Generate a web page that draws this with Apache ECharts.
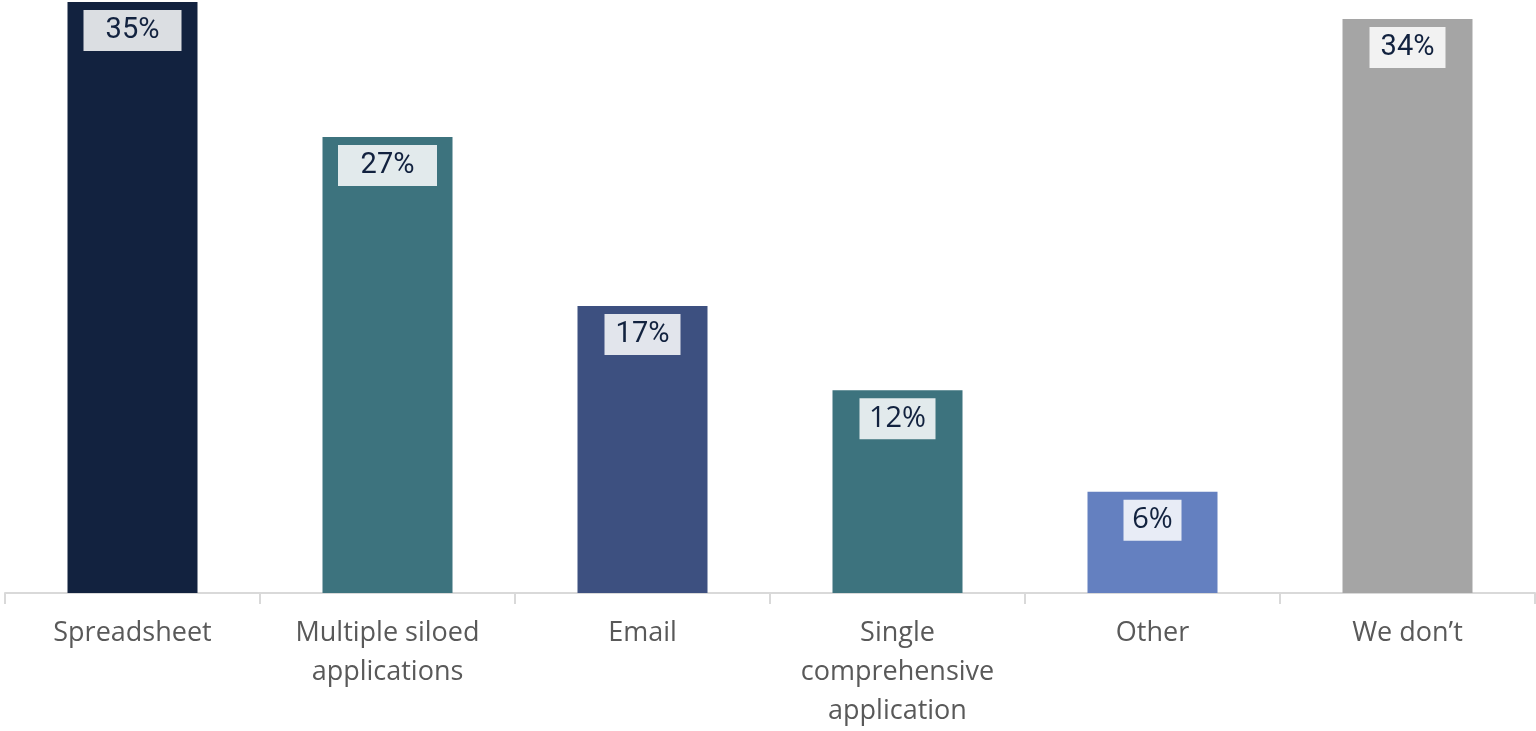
<!DOCTYPE html>
<html>
<head>
<meta charset="utf-8">
<script src="https://cdn.jsdelivr.net/npm/echarts@6/dist/echarts.min.js"></script>
<style>
  html, body { margin: 0; padding: 0; background: #ffffff; overflow: hidden; }
  #chart { width: 100vw; height: 100vh; }
</style>
</head>
<body>
<div id="chart"></div>
<script>
// Categories and shares (percent of respondents)
const categories = ['Spreadsheet', 'Multiple siloed\napplications', 'Email', 'Single\ncomprehensive\napplication', 'Other', 'We don\u2019t'];
const values = [35, 27, 17, 12, 6, 34];

// Bar fills, one per category
const barColors = ['#12223f', '#3d737e', '#3d5080', '#3d737e', '#6480c0', '#a5a5a5'];
// Value label box widths and fonts
const labelBoxWidths = [98, 99, 76, 76, 58, 76];
const labelFonts = ['Roboto', 'Roboto', 'Roboto', 'Open Sans', 'Open Sans', 'Roboto'];

const chart = echarts.init(document.getElementById('chart'), null, { renderer: 'canvas' });

const seriesData = values.map((v, i) => ({
  value: v,
  itemStyle: { color: barColors[i] },
  label: {
    fontFamily: labelFonts[i],
    width: labelBoxWidths[i]
  }
}));

const H = chart.getHeight();

chart.setOption({
  animation: false,
  grid: { left: 5, right: 1, top: 2, bottom: H - 597, containLabel: false },
  xAxis: {
    type: 'category',
    data: categories,
    axisLine: { show: true, lineStyle: { color: '#d9d9d9', width: 2 } },
    axisTick: { show: true, length: 11, alignWithLabel: false, lineStyle: { color: '#d9d9d9', width: 2 } },
    axisLabel: {
      color: '#595959',
      fontFamily: 'Open Sans',
      fontSize: 27,
      lineHeight: 39,
      margin: 21,
      interval: 0
    }
  },
  yAxis: {
    type: 'value',
    min: 0,
    max: 35,
    show: false,
    splitLine: { show: false }
  },
  series: [{
    type: 'bar',
    data: seriesData,
    barWidth: 130,
    label: {
      show: true,
      position: 'insideTop',
      distance: 8,
      formatter: '{c}%',
      color: '#12223f',
      fontSize: 29,
      lineHeight: 31,
      align: 'center',
      backgroundColor: 'rgba(255,255,255,0.85)',
      padding: [5, 0, 5, 0]
    }
  }]
});
</script>
</body>
</html>
